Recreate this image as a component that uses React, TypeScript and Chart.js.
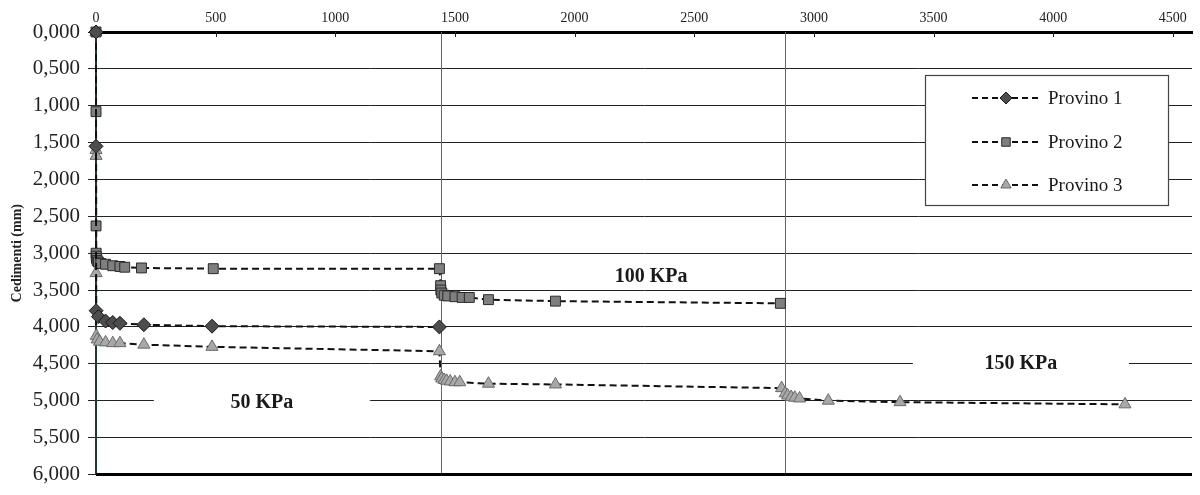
import React, { useEffect, useRef } from 'react';
import { Chart, registerables } from 'chart.js';
import { drawPoint } from 'chart.js/helpers';

Chart.register(...registerables);

// ---- data ----
const xTicks = [0, 500, 1000, 1500, 2000, 2500, 3000, 3500, 4000, 4500];
const stageTimes = [1440, 2880];

const seriesNames = ['Provino 1', 'Provino 2', 'Provino 3'];

const p1X = [0, 0.1, 0.5, 10, 40, 70, 100, 200, 485, 1435];
const p1Y = [0, 1.55, 3.78, 3.86, 3.92, 3.94, 3.95, 3.97, 3.99, 4.0];

const p2X = [0, 0.1, 0.25, 0.5, 1, 2, 5, 10, 20, 40, 70, 100, 120, 190, 490, 1435,
  1440.1, 1441, 1445, 1455, 1470, 1500, 1530, 1560, 1640, 1920, 2860];
const p2Y = [0, 1.08, 2.63, 3.0, 3.04, 3.07, 3.1, 3.12, 3.14, 3.15, 3.17, 3.18, 3.19, 3.2, 3.21, 3.21,
  3.44, 3.5, 3.54, 3.57, 3.58, 3.59, 3.6, 3.6, 3.63, 3.65, 3.68];

const p3X = [0, 0.1, 0.25, 0.5, 1, 5, 15, 40, 70, 100, 200, 485, 1435,
  1440.1, 1445, 1455, 1465, 1480, 1500, 1520, 1640, 1920, 2865,
  2880.1, 2890, 2905, 2920, 2940, 3060, 3360, 4300];
const p3Y = [0, 1.6, 1.68, 3.27, 4.12, 4.17, 4.2, 4.21, 4.22, 4.22, 4.24, 4.27, 4.33,
  4.67, 4.7, 4.72, 4.73, 4.74, 4.75, 4.75, 4.77, 4.78, 4.83,
  4.9, 4.93, 4.95, 4.96, 4.97, 5.0, 5.02, 5.05];

const loadLabels = ['50 KPa', '100 KPa', '150 KPa'];
const loadLabelX = [693, 2320, 3865];
const loadLabelY = [5.03, 3.32, 4.5];

const SERIF = "'Liberation Serif', 'Times New Roman', serif";

const pointStyles = ['rectRot', 'rect', 'triangle'];
const pointFills = ['#4d4d4d', '#7f7f7f', '#a8a8a8'];
const pointBorders = ['#1a1a1a', '#2a2a2a', '#6a6a6a'];

const toPts = (xs: number[], ys: number[]) => xs.map((x, i) => ({ x, y: ys[i] }));

const overlayPlugin = {
  id: 'overlay',
  beforeDatasetsDraw(chart: any) {
    const { ctx, chartArea, scales } = chart;
    const { top, bottom, left, right } = chartArea;
    const xs = scales.x;
    const ys = scales.y;
    ctx.save();
    // stage vertical lines
    ctx.strokeStyle = '#666';
    ctx.lineWidth = 1;
    stageTimes.forEach((t) => {
      const px = Math.round(xs.getPixelForValue(t)) + 0.5;
      ctx.beginPath();
      ctx.moveTo(px, top);
      ctx.lineTo(px, bottom);
      ctx.stroke();
    });
    // bottom thick border
    ctx.strokeStyle = '#000';
    ctx.lineWidth = 3;
    ctx.beginPath();
    ctx.moveTo(left, bottom);
    ctx.lineTo(right, bottom);
    ctx.stroke();
    // small inside tick marks of the top axis
    ctx.strokeStyle = '#222';
    ctx.lineWidth = 1;
    xTicks.forEach((v) => {
      const px = Math.round(xs.getPixelForValue(v)) + 0.5;
      ctx.beginPath();
      ctx.moveTo(px, top);
      ctx.lineTo(px, top + 5);
      ctx.stroke();
    });
    // load labels
    ctx.font = `bold 20px ${SERIF}`;
    ctx.textAlign = 'center';
    ctx.textBaseline = 'middle';
    loadLabels.forEach((txt, i) => {
      const cx = xs.getPixelForValue(loadLabelX[i]);
      const cy = ys.getPixelForValue(loadLabelY[i]);
      ctx.fillStyle = '#fff';
      ctx.fillRect(cx - 108, cy - 11, 216, 22);
      ctx.fillStyle = '#1a1a1a';
      ctx.fillText(txt, cx, cy);
    });
    ctx.restore();
  },
  afterDatasetsDraw(chart: any) {
    const { ctx } = chart;
    ctx.save();
    const bx = 925, by = 75, bw = 243, bh = 130;
    ctx.fillStyle = '#fff';
    ctx.fillRect(bx, by, bw, bh);
    ctx.strokeStyle = '#444';
    ctx.lineWidth = 1.2;
    ctx.strokeRect(bx + 0.5, by + 0.5, bw, bh);
    const rowY = [98, 142, 185];
    seriesNames.forEach((name, i) => {
      const y = rowY[i];
      ctx.strokeStyle = '#111';
      ctx.lineWidth = 2;
      ctx.setLineDash([6, 4]);
      ctx.beginPath();
      ctx.moveTo(972, y);
      ctx.lineTo(1040, y);
      ctx.stroke();
      ctx.setLineDash([]);
      ctx.fillStyle = pointFills[i];
      ctx.strokeStyle = pointBorders[i];
      ctx.lineWidth = 1;
      drawPoint(ctx, { pointStyle: pointStyles[i], radius: 6, rotation: 0, borderWidth: 1 } as any, 1006, y);
      ctx.fillStyle = '#1a1a1a';
      ctx.font = `19px ${SERIF}`;
      ctx.textAlign = 'left';
      ctx.textBaseline = 'middle';
      ctx.fillText(name, 1048, y + 1);
    });
    ctx.restore();
  },
};

export default function App() {
  const ref = useRef<HTMLCanvasElement | null>(null);
  useEffect(() => {
    if (!ref.current) return;
    const sets = [toPts(p1X, p1Y), toPts(p2X, p2Y), toPts(p3X, p3Y)];
    const chart = new Chart(ref.current, {
      type: 'scatter',
      data: {
        datasets: sets.map((d, i) => ({
          label: seriesNames[i],
          data: d,
          showLine: true,
          borderColor: '#111',
          borderWidth: 2,
          borderDash: [7, 4],
          pointStyle: pointStyles[i] as any,
          pointRadius: 7,
          pointBackgroundColor: pointFills[i],
          pointBorderColor: pointBorders[i],
          pointBorderWidth: 1,
          clip: false as any,
        })),
      },
      options: {
        animation: false,
        responsive: false,
        devicePixelRatio: 1,
        layout: { padding: { top: 0, left: 0, right: 0, bottom: 13 } },
        plugins: { legend: { display: false }, tooltip: { enabled: false } },
        scales: {
          x: {
            type: 'linear',
            position: 'top',
            min: 0,
            max: 4580,
            afterBuildTicks: (axis: any) => {
              axis.ticks = xTicks.map((v) => ({ value: v }));
            },
            afterFit: (scale: any) => {
              scale.height = 32;
            },
            grid: { display: false, drawTicks: false },
            border: { display: true, color: '#000', width: 3 },
            ticks: {
              padding: 5,
              maxRotation: 0,
              color: '#222',
              font: { family: SERIF, size: 14 },
              callback: (v: any) => String(v),
            },
          },
          y: {
            type: 'linear',
            reverse: true,
            min: 0,
            max: 6,
            afterFit: (scale: any) => {
              scale.width = 96;
            },
            grid: { color: '#222', lineWidth: 1, tickLength: 8 },
            border: { display: true, color: '#1d3b35', width: 2 },
            ticks: {
              stepSize: 0.5,
              padding: 8,
              color: '#222',
              font: { family: SERIF, size: 21 },
              callback: (v: any) => Number(v).toFixed(3).replace('.', ','),
            },
            title: {
              display: true,
              text: 'Cedimenti (mm)',
              color: '#222',
              font: { family: SERIF, size: 14, weight: 'bold' },
              padding: { top: 9, bottom: 0 },
            },
          },
        },
      },
      plugins: [overlayPlugin],
    } as any);
    return () => chart.destroy();
  }, []);
  return (
    <div style={{ position: 'fixed', left: 0, top: 0, width: 1200, height: 495, background: '#fff' }}>
      <canvas ref={ref} width={1200} height={495} />
    </div>
  );
}
